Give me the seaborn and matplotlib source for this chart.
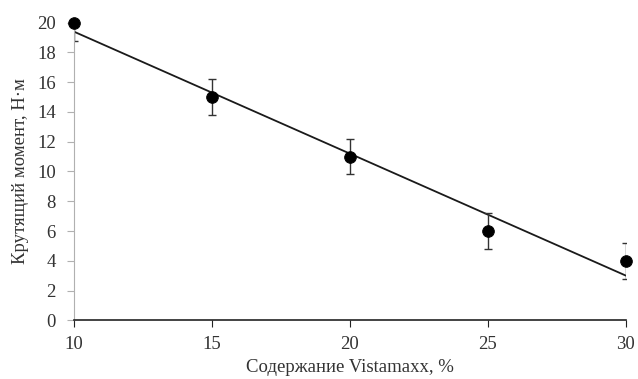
import seaborn as sns
import matplotlib.pyplot as plt
import pandas as pd
import numpy as np

content = [10, 15, 20, 25, 30]
torque = [20, 15, 11, 6, 4]
err = [1.2, 1.2, 1.2, 1.2, 1.2]

df = pd.DataFrame({"content": content, "torque": torque})

sns.set_style("white")
plt.rcParams['font.family'] = ['Liberation Serif', 'DejaVu Serif']

fig, ax = plt.subplots(figsize=(6.38, 3.79), dpi=100)
fig.subplots_adjust(left=0.116, right=0.981, top=0.94, bottom=0.155)

sns.regplot(data=df, x='content', y='torque', ci=None, scatter=False,
            line_kws={'color': '#1a1a1a', 'lw': 1.3}, ax=ax)
ax.errorbar(content, torque, yerr=err, fmt='none', ecolor='#333333',
            elinewidth=1, capsize=3, capthick=1)
sns.scatterplot(data=df, x='content', y='torque', color='black', s=70,
                edgecolor='black', zorder=5, clip_on=False, ax=ax)

ax.set_xlim(10, 30)
ax.set_ylim(0, 20)
ax.set_xticks([10, 15, 20, 25, 30])
ax.set_yticks(range(0, 21, 2))
ax.set_xlabel("Содержание Vistamaxx, %", fontsize=13.5, color='#333333', labelpad=5)
ax.set_ylabel("Крутящий момент, Н·м", fontsize=13.5, color='#333333', labelpad=6)

for s in ['top', 'right']:
    ax.spines[s].set_visible(False)
ax.spines['left'].set_color('#b0b0b0')
ax.spines['bottom'].set_color('#222222')
ax.spines['bottom'].set_linewidth(1.2)
ax.tick_params(axis='y', left=True, length=5, color='#b0b0b0', labelsize=13.5,
               labelcolor='#333333', pad=8)
ax.tick_params(axis='x', bottom=True, length=5, color='#222222', labelsize=13.5,
               labelcolor='#333333', pad=6)

plt.savefig("out.png")
plt.close()
